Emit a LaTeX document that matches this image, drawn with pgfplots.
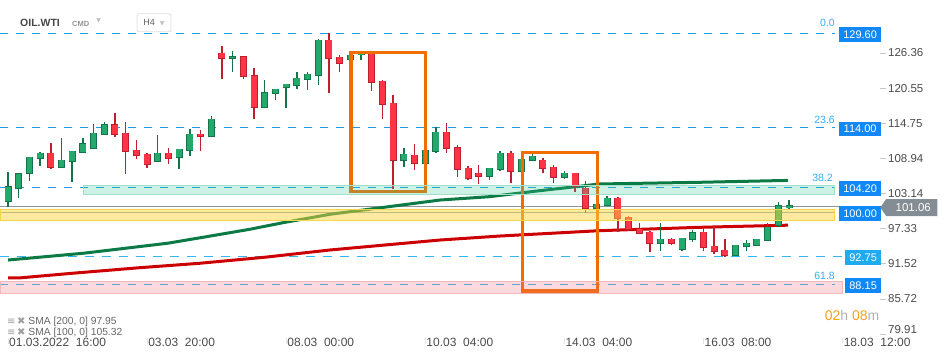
\documentclass[border=0pt]{standalone}
\usepackage{fontspec}
\setmainfont{Liberation Sans}
\newfontfamily\dejavu{DejaVu Sans}
\usepackage{pgfplots}
\pgfplotsset{compat=1.18}
\usepackage{pgfplotstable}
\usetikzlibrary{shapes.symbols}

\definecolor{gfill}{HTML}{24A96C}
\definecolor{gborder}{HTML}{13744A}
\definecolor{gwick}{HTML}{13744A}
\definecolor{rfill}{HTML}{FF3447}
\definecolor{rborder}{HTML}{BE1E2D}
\definecolor{rwick}{HTML}{BE1E2D}
\definecolor{fibblue}{HTML}{1E9BE8}
\definecolor{fiblight}{HTML}{33B5F5}
\definecolor{fibtext}{HTML}{35AEEE}
\definecolor{boxblue}{HTML}{1188F5}
\definecolor{boxlight}{HTML}{22AAF0}
\definecolor{smared}{HTML}{CC0000}
\definecolor{smagreen}{HTML}{0B7A45}
\definecolor{orangebox}{HTML}{F06E00}
\definecolor{yellowz}{HTML}{FBD340}
\definecolor{yellowb}{HTML}{F5D742}
\definecolor{mintz}{HTML}{3CC99A}
\definecolor{mintb}{HTML}{9FE0C8}
\definecolor{pinkz}{HTML}{F06B78}
\definecolor{pinkb}{HTML}{F4B6BB}
\definecolor{tickgray}{HTML}{4A4A4A}
\definecolor{taggray}{HTML}{858D94}
\definecolor{pricegray}{HTML}{8C959D}
\definecolor{lvlgray}{HTML}{86A6AE}
\definecolor{cdorange}{HTML}{F5A020}

% up candles: index, open, high, low, close
\pgfplotstableread{
i o h l c
0 101.90 106.69 100.91 104.21
1 104.05 106.36 102.39 106.36
2 106.48 109.12 105.25 109.12
3 108.95 109.99 107.73 109.78
5 107.47 112.31 107.47 108.63
6 108.46 110.11 105.09 110.11
7 109.95 112.31 109.95 111.43
8 110.61 114.62 110.61 113.09
9 112.92 114.91 112.92 114.57
14 108.46 112.76 108.29 109.78
16 109.12 110.44 107.24 110.44
17 110.28 113.80 109.39 112.92
19 112.60 115.90 112.60 115.40
21 125.48 126.64 123.27 125.81
24 117.39 121.85 117.22 119.86
25 119.70 120.36 118.54 120.36
26 120.70 121.30 117.22 121.19
27 121.02 123.17 120.36 122.18
28 122.01 123.17 120.19 122.84
29 122.67 128.62 121.02 128.46
32 125.32 126.10 125.20 125.98
33 126.14 126.40 125.15 126.31
37 108.63 110.61 107.47 109.62
39 108.13 110.40 108.00 110.28
40 110.11 114.08 109.88 113.25
45 105.98 107.40 105.32 107.30
46 107.14 110.11 106.81 109.78
48 106.81 108.90 106.60 108.79
49 108.63 109.62 108.50 109.29
52 105.81 106.81 105.48 106.48
55 100.69 101.40 100.60 101.35
56 101.18 102.67 101.10 102.34
61 94.91 98.21 93.58 95.57
63 93.91 95.80 93.68 95.73
64 95.57 97.05 95.07 96.72
68 92.92 94.60 92.90 94.58
69 94.41 95.40 93.58 94.91
70 94.58 95.60 94.50 95.57
71 95.40 98.21 95.30 97.55
72 97.88 101.68 97.55 101.18
73 100.85 102.01 100.36 101.06
}\up

% down candles
\pgfplotstableread{
i o h l c
4 109.78 111.48 107.24 107.47
10 114.57 116.44 112.53 112.92
11 113.09 114.91 106.41 110.11
12 110.28 111.93 108.89 109.45
13 109.62 109.80 107.40 107.96
15 109.78 110.61 108.06 108.95
18 112.92 113.58 110.21 112.60
20 126.31 127.52 122.11 125.48
22 125.81 125.81 122.11 122.51
23 122.67 123.83 115.50 117.39
30 128.46 129.60 119.70 125.48
31 125.65 125.98 123.17 124.66
34 126.31 126.50 120.13 121.52
35 121.68 121.85 115.50 117.88
36 118.05 119.37 103.83 108.63
38 109.45 111.27 106.97 108.13
41 113.25 114.74 109.88 110.61
42 110.77 111.10 105.81 107.14
43 107.30 107.63 105.32 105.65
44 106.48 107.80 104.66 105.98
47 109.78 110.11 104.82 106.81
50 108.63 108.95 106.48 107.30
51 107.47 107.80 104.82 105.81
53 106.48 106.60 103.34 104.33
54 104.00 105.15 99.86 100.69
57 102.34 102.50 96.72 99.04
58 99.20 99.40 96.89 97.22
59 97.22 98.21 96.40 96.56
60 96.72 97.00 93.42 94.91
62 95.57 95.80 94.58 94.91
65 96.72 97.72 93.58 94.25
66 94.41 97.72 93.09 93.58
67 93.75 95.57 92.59 92.92
}\down

\pgfplotsset{
  wick/.style={draw=none, mark=none, forget plot,
    error bars/.cd, y dir=both, y explicit, error mark=none,
    error bar style={draw=#1, line width=1.4pt}},
  bodyo/.style={draw=none, mark=none, forget plot,
    error bars/.cd, y dir=both, y explicit, error mark=none,
    error bar style={draw=#1, line width=7pt}},
  bodyi/.style={draw=none, mark=none, forget plot,
    error bars/.cd, y dir=both, y explicit, error mark=none,
    error bar style={draw=#1, line width=5.4pt}},
}

\begin{document}
\begin{tikzpicture}
\useasboundingbox (0,0) rectangle (950pt,360pt);
\begin{axis}[
  at={(0pt,22pt)}, anchor=south west,
  scale only axis, width=880pt, height=338pt,
  xmin=-0.748, xmax=81.5, ymin=79.25, ymax=135.12,
  clip=false,
  axis x line*=bottom, axis y line*=right,
  axis line style={draw=none},
  tick align=outside, major tick length=6pt,
  y tick style={draw=black!22, line width=0.7pt},
  x tick style={draw=black!10, line width=0.7pt},
  xtick={0,13,26,39,52,65,78},
  xticklabels={{01.03.2022\ \ 16:00},{03.03\ \ 20:00},{08.03\ \ 00:00},{10.03\ \ 04:00},{14.03\ \ 04:00},{16.03\ \ 08:00},{18.03\ \ 12:00}},
  xticklabel style={anchor=north west, font=\fontsize{12}{14}\selectfont, text=tickgray, inner sep=0pt, xshift=1pt, yshift=6pt},
  ytick={85.72,91.52,97.33,103.14,108.94,114.75,120.55,126.36},
  yticklabels={85.72,91.52,97.33,103.14,108.94,114.75,120.55,126.36},
  yticklabel style={anchor=west, font=\fontsize{11.5}{13}\selectfont, text=tickgray, inner sep=0pt, xshift=2pt},
  extra y ticks={79.91},
  extra y tick labels={79.91},
  extra y tick style={yticklabel style={yshift=4.5pt}},
]

% fibonacci / level lines
\addplot[fibblue, line width=1pt, dash pattern=on 8pt off 8pt, forget plot] coordinates {(-0.748,129.60) (77.29,129.60)};
\addplot[fibblue, line width=1pt, dash pattern=on 8pt off 8pt, forget plot] coordinates {(-0.748,114.00) (77.29,114.00)};
\addplot[fibblue, line width=1pt, dash pattern=on 8pt off 8pt, forget plot] coordinates {(-0.748,104.20) (77.29,104.20)};
\addplot[fiblight, line width=1pt, dash pattern=on 9pt off 8pt, forget plot] coordinates {(-0.748,92.75) (78.2,92.75)};
\addplot[fiblight, line width=1pt, dash pattern=on 8pt off 8pt, forget plot] coordinates {(-0.748,88.15) (77.29,88.15)};
\addplot[lvlgray, line width=1pt, forget plot] coordinates {(-0.748,100.00) (77.29,100.00)};
\addplot[pricegray, line width=1pt, forget plot] coordinates {(-0.748,101.06) (81.5,101.06)};

% moving averages
\addplot[smared, line width=3pt, line join=round, forget plot] coordinates {
(0,89.17) (1,89.17) (6,89.95) (12.3,90.87) (17.9,91.60) (24,92.60) (30.1,93.80)
(40.4,95.45) (46,96.11) (55.3,96.99) (64.7,97.55) (72.9,97.90)};
\addplot[smagreen, line width=3pt, line join=round, forget plot] coordinates {
(0,92.14) (7,93.25) (14.9,94.91) (18,95.83) (22.6,97.22) (25.7,98.31) (30.1,99.70)
(40.4,102.06) (45.0,102.61) (49.7,103.60) (55.3,104.71) (64.7,104.99) (72.9,105.30)};

% wicks
\addplot[wick=gwick] table[x=i, y expr={(\thisrow{h}+\thisrow{l})/2}, y error expr={(\thisrow{h}-\thisrow{l})/2}] {\up};
\addplot[wick=rwick] table[x=i, y expr={(\thisrow{h}+\thisrow{l})/2}, y error expr={(\thisrow{h}-\thisrow{l})/2}] {\down};
% bodies
\addplot[bodyo=gborder] table[x=i, y expr={(\thisrow{o}+\thisrow{c})/2}, y error expr={abs(\thisrow{c}-\thisrow{o})/2+0.1}] {\up};
\addplot[bodyi=gfill] table[x=i, y expr={(\thisrow{o}+\thisrow{c})/2}, y error expr={max(abs(\thisrow{c}-\thisrow{o})/2-0.03,0)}] {\up};
\addplot[bodyo=rborder] table[x=i, y expr={(\thisrow{o}+\thisrow{c})/2}, y error expr={abs(\thisrow{c}-\thisrow{o})/2+0.1}] {\down};
\addplot[bodyi=rfill] table[x=i, y expr={(\thisrow{o}+\thisrow{c})/2}, y error expr={max(abs(\thisrow{c}-\thisrow{o})/2-0.03,0)}] {\down};

% orange boxes
\addplot[orangebox, line width=3.3pt, line join=miter, forget plot] coordinates {(32.06,126.47) (39.04,126.47) (39.04,103.50) (32.06,103.50) (32.06,126.47)} -- cycle;
\addplot[orangebox, line width=3.3pt, line join=miter, forget plot] coordinates {(48.07,109.94) (55.07,109.94) (55.07,87.02) (48.07,87.02) (48.07,109.94)} -- cycle;

% zones
\addplot[draw=mintb, line width=1pt, fill=mintz, fill opacity=0.25, forget plot] coordinates {(7.01,103.01) (77.29,103.01) (77.29,104.49) (7.01,104.49)} -- cycle;
\addplot[draw=yellowb, line width=1pt, fill=yellowz, fill opacity=0.5, forget plot] coordinates {(-0.748,98.64) (77.29,98.64) (77.29,100.52) (-0.748,100.52)} -- cycle;
\addplot[draw=pinkb, line width=1pt, fill=pinkz, fill opacity=0.25, forget plot] coordinates {(-0.748,86.64) (78.04,86.64) (78.04,88.56) (-0.748,88.56)} -- cycle;

% fib labels
\node[anchor=east, text=fibtext, inner sep=0pt, font=\fontsize{10.5}{12}\selectfont] at (axis cs:77.29,131.32) {0.0};
\node[anchor=east, text=fibtext, inner sep=0pt, font=\fontsize{10.5}{12}\selectfont] at (axis cs:77.29,115.28) {23.6};
\node[anchor=east, text=fibtext, inner sep=0pt, font=\fontsize{10.5}{12}\selectfont] at (axis cs:77.10,105.70) {38.2};
\node[anchor=east, text=fibtext, inner sep=0pt, font=\fontsize{10.5}{12}\selectfont] at (axis cs:77.29,89.50) {61.8};

% level boxes
\tikzset{lvlbox/.style={anchor=west, fill=#1, text=white, inner sep=0pt, minimum height=14.5pt, font=\fontsize{11}{12}\selectfont}}
\node[lvlbox=boxblue, minimum width=42pt] at (axis cs:77.66,129.40) {129.60};
\node[lvlbox=boxblue, minimum width=42pt] at (axis cs:77.66,113.80) {114.00};
\node[lvlbox=boxblue, minimum width=42pt] at (axis cs:77.66,103.95) {104.20};
\node[lvlbox=boxblue, minimum width=42pt] at (axis cs:77.66,99.85) {100.00};
\node[lvlbox=boxlight, minimum width=36pt] at (axis cs:78.22,92.55) {92.75};
\node[lvlbox=boxblue, minimum width=36pt] at (axis cs:78.22,87.95) {88.15};

% current price tag
\node[shape=signal, signal to=west, signal pointer angle=110, fill=taggray, text=white, anchor=west, inner xsep=3pt, inner ysep=0pt, minimum height=17pt, minimum width=57pt, font=\fontsize{11.5}{13}\selectfont] at (axis cs:81.5,100.82) {\hspace*{3pt}101.06};

% countdown
\node[anchor=east, inner sep=0pt, font=\fontsize{14}{16}\selectfont] at (axis cs:81.45,83.05) {\textcolor{cdorange}{02}\textcolor{black!30}{h} \textcolor{cdorange}{08}\textcolor{black!30}{m}};

% header
\node[anchor=west, inner sep=0pt, text=black!72, font=\fontsize{10.5}{12}\selectfont\bfseries] at (axis cs:1.12,131.32) {OIL.WTI};
\node[anchor=west, inner sep=0pt, text=black!42, font=\fontsize{7.5}{9}\selectfont\bfseries] at (axis cs:5.98,131.2) {CMD};
\node[anchor=west, inner sep=0pt, text=black!25, font=\dejavu\fontsize{6}{7}\selectfont] at (axis cs:8.25,131.6) {▼};
\node[draw=black!13, rounded corners=2pt, line width=0.8pt, minimum width=34pt, minimum height=18pt, inner sep=0pt, text=black!62, font=\fontsize{9}{10}\selectfont] at (axis cs:13.65,131.35) {H4\hspace{5pt}{\dejavu\fontsize{6}{7}\selectfont\textcolor{black!25}{▼}}};

% SMA legend
\node[anchor=west, inner sep=0pt, text=black!60, font=\fontsize{10.3}{11}\selectfont] at (axis cs:-0.1,81.90) {{\dejavu\fontsize{10}{10}\selectfont\textcolor{black!38}{≡\,✖}}\ SMA [200,\ 0] 97.95};
\node[anchor=west, inner sep=0pt, text=black!60, font=\fontsize{10.3}{11}\selectfont] at (axis cs:-0.1,80.08) {{\dejavu\fontsize{10}{10}\selectfont\textcolor{black!38}{≡\,✖}}\ SMA [100,\ 0] 105.32};

\end{axis}
\end{tikzpicture}
\end{document}
